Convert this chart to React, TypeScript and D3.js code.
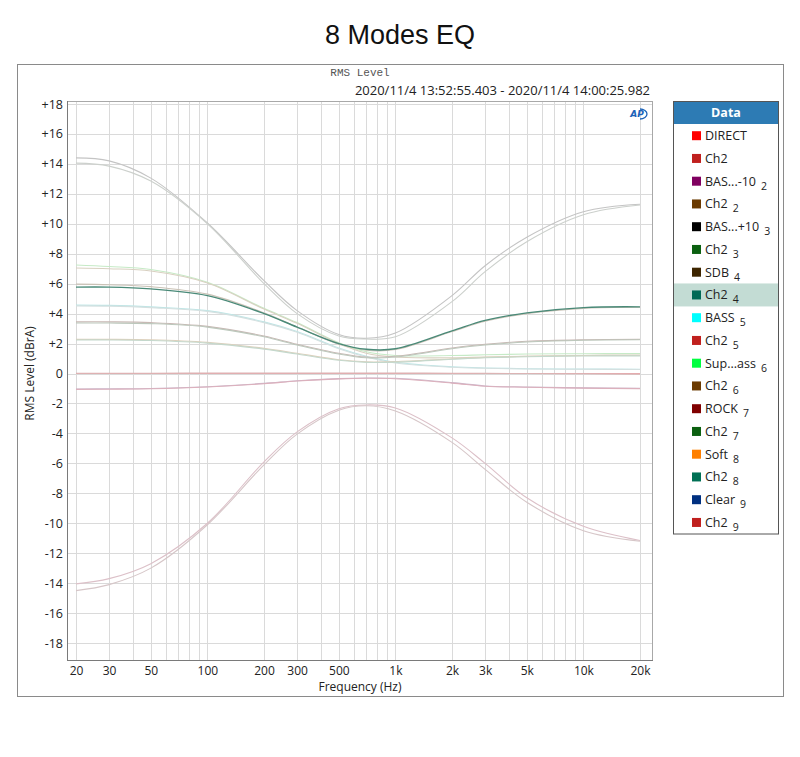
import { useRef, useEffect } from 'react';
import * as d3 from 'd3';

// measurement frequencies (Hz) shared by every trace
const freqs = [20, 30, 50, 100, 200, 300, 500, 700, 1000, 2000, 3000, 5000, 10000, 20000];

const direct1 = [0, 0, 0, 0, 0, 0, 0, 0, 0, 0, 0, 0, 0, 0];
const direct2 = [0.02, 0.02, 0.02, 0.03, 0.03, 0.03, 0.03, 0.03, 0.03, 0.02, 0.01, 0, -0.02, -0.05];
const bassMinus1 = [-14.05, -13.7, -12.7, -10.0, -5.9, -3.9, -2.35, -2.1, -2.3, -4.3, -6.0, -8.3, -10.2, -11.15];
const bassMinus2 = [-14.5, -14.1, -13.0, -10.1, -6.1, -4.05, -2.45, -2.15, -2.5, -4.6, -6.4, -8.6, -10.5, -11.2];
const bassPlus1 = [14.4, 14.2, 13.05, 10.05, 6.2, 4.2, 2.6, 2.35, 2.7, 5.2, 7.2, 9.1, 10.8, 11.3];
const bassPlus2 = [14.05, 13.85, 12.85, 10.0, 6.0, 4.0, 2.5, 2.3, 2.45, 4.8, 6.8, 8.8, 10.6, 11.25];
const sdb1 = [5.97, 5.93, 5.8, 5.3, 4.05, 3.1, 1.95, 1.55, 1.6, 2.8, 3.5, 4.0, 4.35, 4.42];
const sdb2 = [5.77, 5.77, 5.65, 5.2, 4.0, 3.1, 2.0, 1.62, 1.65, 2.85, 3.55, 4.05, 4.4, 4.45];
const bass1 = [4.57, 4.55, 4.45, 4.2, 3.45, 2.8, 1.7, 1.15, 0.75, 0.45, 0.37, 0.32, 0.3, 0.28];
const bass2 = [4.52, 4.5, 4.4, 4.15, 3.4, 2.75, 1.65, 1.1, 0.7, 0.42, 0.35, 0.3, 0.28, 0.27];
const superBass1 = [7.25, 7.15, 6.95, 6.1, 4.35, 3.4, 2.05, 1.45, 1.2, 1.2, 1.25, 1.3, 1.32, 1.33];
const superBass2 = [7.05, 7.0, 6.85, 6.05, 4.3, 3.35, 2.0, 1.35, 1.1, 1.05, 1.1, 1.15, 1.2, 1.22];
const rock1 = [3.45, 3.45, 3.4, 3.15, 2.5, 1.95, 1.35, 1.1, 1.15, 1.7, 1.95, 2.15, 2.25, 2.28];
const rock2 = [3.37, 3.37, 3.33, 3.1, 2.45, 1.9, 1.3, 1.05, 1.1, 1.65, 1.9, 2.1, 2.22, 2.25];
const soft1 = [2.28, 2.28, 2.25, 2.08, 1.68, 1.35, 0.92, 0.78, 0.8, 0.98, 1.08, 1.15, 1.2, 1.22];
const soft2 = [2.24, 2.24, 2.2, 2.03, 1.63, 1.3, 0.88, 0.74, 0.76, 0.95, 1.05, 1.12, 1.17, 1.18];
const clear1 = [-1.04, -1.02, -1.0, -0.88, -0.66, -0.48, -0.34, -0.3, -0.32, -0.61, -0.83, -0.9, -0.96, -0.99];
const clear2 = [-1.06, -1.05, -1.02, -0.9, -0.68, -0.5, -0.36, -0.32, -0.35, -0.64, -0.85, -0.92, -0.98, -1.01];

// legend order
const seriesNames = ['DIRECT', 'Ch2', 'BAS...-10', 'Ch2', 'BAS...+10', 'Ch2', 'SDB', 'Ch2', 'BASS', 'Ch2',
    'Sup...ass', 'Ch2', 'ROCK', 'Ch2', 'Soft', 'Ch2', 'Clear', 'Ch2'];
const seriesSubs = ['', '', '2', '2', '3', '3', '4', '4', '5', '5', '6', '6', '7', '7', '8', '8', '9', '9'];
const seriesValues = [direct1, direct2, bassMinus1, bassMinus2, bassPlus1, bassPlus2, sdb1, sdb2, bass1, bass2,
    superBass1, superBass2, rock1, rock2, soft1, soft2, clear1, clear2];
const legendColors = ['#ff0000', '#c0201e', '#800060', '#6b3a00', '#000000', '#0b6010', '#3d2500', '#006a55', '#00ffff', '#c0201e',
    '#00ff40', '#6b3a00', '#800000', '#0b6010', '#ff8000', '#007055', '#003080', '#c0201e'];
// traces are dimmed except the selected one
const traceColors = ['#e8a8ac', '#dcb4b4', '#dcc0c8', '#d6c6c8', '#c4c4c4', '#ccd0cc', '#cac2b6', '#4a8a78', '#bde6e6', '#d4e0e0',
    '#c6eac6', '#d8d0c0', '#c8b8b4', '#bcc8bc', '#ddd0bc', '#c4d8cc', '#cab8cc', '#dcb0bc'];
const selectedIndex = 7;

const xTicks = [20, 30, 50, 100, 200, 300, 500, 1000, 2000, 3000, 5000, 10000, 20000];
const yTicks = d3.range(-18, 19, 2);

const uiFont = '"Open Sans", "Noto Sans", sans-serif';

export default function App() {
    const svgRef = useRef<SVGSVGElement>(null);

    useEffect(() => {
        if (!svgRef.current) return;
        const width = 800;
        const height = 757;
        const plot = { left: 67, right: 653, top: 101, bottom: 660 };

        const svg = d3.select(svgRef.current);
        svg.selectAll('*').remove();
        svg.attr('width', width).attr('height', height);

        svg.append('rect').attr('width', width).attr('height', height).attr('fill', 'white');

        const x = d3.scaleLog().domain([20, 20000]).range([76, 640]);
        const y = d3.scaleLinear().domain([-18, 18]).range([643, 104]);

        // title
        svg.append('text')
            .attr('x', 400).attr('y', 44)
            .attr('text-anchor', 'middle')
            .attr('font-family', '"Liberation Sans", Arial, sans-serif')
            .attr('font-size', '27px')
            .attr('fill', '#111')
            .text('8 Modes EQ');

        // outer frame
        svg.append('rect')
            .attr('x', 17.5).attr('y', 64.5)
            .attr('width', 766).attr('height', 632)
            .attr('fill', 'none').attr('stroke', '#8a8a8a');

        svg.append('text')
            .attr('x', 360).attr('y', 76)
            .attr('text-anchor', 'middle')
            .attr('font-family', '"Liberation Mono", monospace')
            .attr('font-size', '11px')
            .attr('fill', '#555')
            .text('RMS Level');

        svg.append('text')
            .attr('x', 650).attr('y', 95)
            .attr('text-anchor', 'end')
            .attr('font-family', uiFont)
            .attr('font-size', '13px')
            .attr('fill', '#222')
            .text('2020/11/4 13:52:55.403 - 2020/11/4 14:00:25.982');

        const g = svg.append('g');

        // grid
        const minorFreqs: number[] = [];
        [10, 100, 1000, 10000].forEach(dec => {
            for (let m = 1; m <= 9; m++) {
                const f = dec * m;
                if (f >= 20 && f <= 20000) minorFreqs.push(f);
            }
        });
        g.selectAll('line.vgrid')
            .data(minorFreqs)
            .enter().append('line')
            .attr('class', 'vgrid')
            .attr('x1', d => Math.round(x(d)) + 0.5).attr('x2', d => Math.round(x(d)) + 0.5)
            .attr('y1', plot.top).attr('y2', plot.bottom)
            .attr('stroke', '#dadada');

        g.selectAll('line.hgrid')
            .data(yTicks)
            .enter().append('line')
            .attr('class', 'hgrid')
            .attr('x1', plot.left).attr('x2', plot.right)
            .attr('y1', d => Math.round(y(d)) + 0.5).attr('y2', d => Math.round(y(d)) + 0.5)
            .attr('stroke', '#dadada');

        // plot border
        g.append('line').attr('x1', plot.left).attr('x2', plot.right).attr('y1', plot.top + 0.5).attr('y2', plot.top + 0.5).attr('stroke', '#a8a8a8');
        g.append('line').attr('x1', plot.right - 0.5).attr('x2', plot.right - 0.5).attr('y1', plot.top).attr('y2', plot.bottom).attr('stroke', '#a8a8a8');
        g.append('line').attr('x1', plot.left + 0.5).attr('x2', plot.left + 0.5).attr('y1', plot.top).attr('y2', plot.bottom).attr('stroke', '#7a7a7a');
        g.append('line').attr('x1', plot.left).attr('x2', plot.right).attr('y1', plot.bottom + 0.5).attr('y2', plot.bottom + 0.5).attr('stroke', '#7a7a7a');

        // traces
        const line = d3.line<[number, number]>()
            .x(d => x(d[0]))
            .y(d => y(d[1]))
            .curve(d3.curveCatmullRom.alpha(0.5));

        const order = seriesValues.map((_, i) => i).filter(i => i !== selectedIndex).concat([selectedIndex]);
        order.forEach(i => {
            const pts = freqs.map((f, k) => [f, seriesValues[i][k]] as [number, number]);
            g.append('path')
                .attr('d', line(pts))
                .attr('fill', 'none')
                .attr('stroke', traceColors[i])
                .attr('stroke-width', i === selectedIndex ? 1.4 : 1.1);
        });

        // AP logo
        const logo = svg.append('g').attr('transform', 'translate(637,114)');
        logo.append('text')
            .attr('text-anchor', 'middle')
            .attr('dy', '0.35em')
            .attr('font-family', '"DejaVu Sans", sans-serif')
            .attr('font-size', '9px')
            .attr('font-weight', 'bold')
            .attr('font-style', 'italic')
            .attr('fill', '#1d63b8')
            .text('AP');
        logo.append('path')
            .attr('d', 'M3,-5 A7,5 0 0 1 3,5')
            .attr('fill', 'none').attr('stroke', '#1d63b8').attr('stroke-width', 1.3);

        // axes
        const xAxis = d3.axisBottom(x)
            .tickValues(xTicks)
            .tickSize(0)
            .tickPadding(5)
            .tickFormat(d => (+d >= 1000 ? `${+d / 1000}k` : `${d}`));
        const xg = svg.append('g').attr('transform', `translate(0,${plot.bottom + 1})`).call(xAxis);
        xg.select('.domain').remove();
        xg.selectAll('text')
            .attr('fill', '#222')
            .attr('font-family', uiFont)
            .attr('font-size', '12px');

        const yAxis = d3.axisLeft(y)
            .tickValues(yTicks)
            .tickSize(0)
            .tickPadding(4)
            .tickFormat(d => (+d > 0 ? `+${d}` : `${d}`));
        const yg = svg.append('g').attr('transform', `translate(${plot.left},0)`).call(yAxis);
        yg.select('.domain').remove();
        yg.selectAll('text')
            .attr('fill', '#222')
            .attr('font-family', uiFont)
            .attr('font-size', '12.5px');

        svg.append('text')
            .attr('x', (plot.left + plot.right) / 2).attr('y', 691)
            .attr('text-anchor', 'middle')
            .attr('font-family', uiFont)
            .attr('font-size', '12px')
            .attr('fill', '#222')
            .text('Frequency (Hz)');

        svg.append('text')
            .attr('transform', `translate(34,${y(0)}) rotate(-90)`)
            .attr('text-anchor', 'middle')
            .attr('font-family', uiFont)
            .attr('font-size', '12px')
            .attr('fill', '#222')
            .text('RMS Level (dBrA)');

        // legend
        const lg = svg.append('g').attr('transform', 'translate(673,101)');
        const legendW = 106;
        const headerH = 23;
        const rowH = 22.75;
        const legendH = headerH + seriesNames.length * rowH + 1;

        lg.append('rect').attr('width', legendW).attr('height', legendH).attr('fill', 'white');
        lg.append('rect').attr('width', legendW).attr('height', headerH).attr('fill', '#2d7bb4');
        lg.append('text')
            .attr('x', legendW / 2).attr('y', headerH / 2)
            .attr('dy', '0.36em')
            .attr('text-anchor', 'middle')
            .attr('font-family', uiFont)
            .attr('font-size', '12.5px')
            .attr('font-weight', 'bold')
            .attr('fill', 'white')
            .text('Data');

        const rowY = (i: number) => 34.7 + i * rowH;

        lg.append('rect')
            .attr('x', 1).attr('y', rowY(selectedIndex) - 11.5)
            .attr('width', legendW - 2).attr('height', 23)
            .attr('fill', '#c3dcd4');

        seriesNames.forEach((name, i) => {
            const row = lg.append('g').attr('transform', `translate(0,${rowY(i)})`);
            row.append('rect')
                .attr('x', 19).attr('y', -4.5)
                .attr('width', 9).attr('height', 9)
                .attr('fill', legendColors[i]);
            const t = row.append('text')
                .attr('x', 32)
                .attr('dy', '0.35em')
                .attr('font-family', uiFont)
                .attr('font-size', '12.5px')
                .attr('fill', '#222')
                .text(name);
            if (seriesSubs[i]) {
                t.append('tspan')
                    .attr('dx', 5)
                    .attr('dy', 4)
                    .attr('font-size', '10.5px')
                    .text(seriesSubs[i]);
            }
        });

        lg.append('rect')
            .attr('x', 0.5).attr('y', 0.5)
            .attr('width', legendW - 1).attr('height', legendH - 1)
            .attr('fill', 'none').attr('stroke', '#555');
    }, []);

    return (
        <div style={{ position: 'absolute', left: 0, top: 0 }}>
            <svg ref={svgRef} style={{ display: 'block' }} />
        </div>
    );
}
